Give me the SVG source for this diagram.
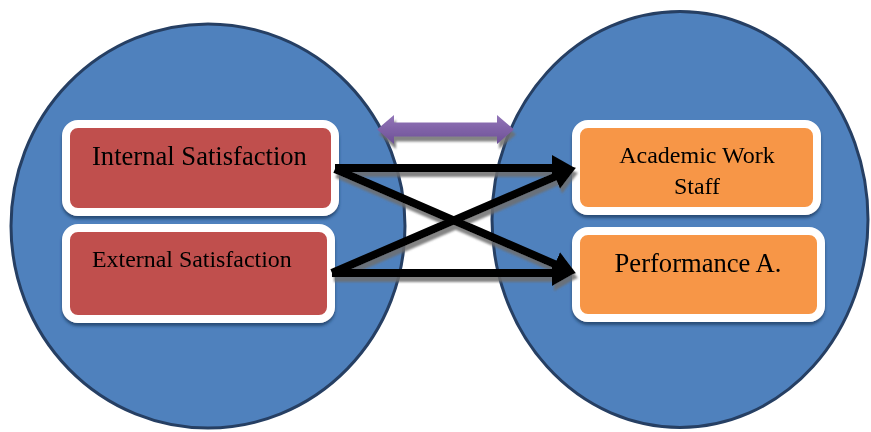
<svg xmlns="http://www.w3.org/2000/svg" width="871" height="432" viewBox="0 0 871 432">
  <defs>
    <style>
      .circle { fill: #4F81BD; stroke: #263F63; stroke-width: 3; }
      .box-red { fill: #C0504D; stroke: #FFFFFF; stroke-width: 8; }
      .box-orange { fill: #F79646; stroke: #FFFFFF; stroke-width: 8; }
      .label { font-family: "Liberation Serif", "Times New Roman", serif; fill: #000000; }
      .center { text-anchor: middle; }
      .conn { stroke: #000000; stroke-width: 8; fill: none; marker-end: url(#head); }
    </style>
    <marker id="head" markerUnits="userSpaceOnUse" markerWidth="24" markerHeight="28" refX="8" refY="13" orient="auto">
      <path d="M0,0 L23,13 L0,26 Z" fill="#000000"/>
    </marker>
    <linearGradient id="purple" x1="0" y1="0" x2="0" y2="1">
      <stop offset="0" stop-color="#9275B8"/>
      <stop offset="1" stop-color="#6D4F96"/>
    </linearGradient>
    <filter id="boxShadow" x="-10%" y="-10%" width="120%" height="130%">
      <feDropShadow dx="0" dy="3" stdDeviation="1.5" flood-color="#1F3A5F" flood-opacity="0.75"/>
    </filter>
    <filter id="lineShadow" x="-10%" y="-20%" width="120%" height="150%">
      <feDropShadow dx="2" dy="5" stdDeviation="1.2" flood-color="#6E6E6E" flood-opacity="0.85"/>
    </filter>
  </defs>

  <rect width="871" height="432" fill="#FFFFFF"/>

  <g id="left-circle">
    <ellipse class="circle" cx="208" cy="226" rx="197" ry="202"/>
  </g>
  <g id="right-circle">
    <ellipse class="circle" cx="680" cy="219.5" rx="188" ry="208"/>
  </g>

  <g id="internal-satisfaction" filter="url(#boxShadow)">
    <rect class="box-red" x="66" y="124" width="269" height="88" rx="12"/>
    <text class="label" x="92" y="165" font-size="26.6">Internal Satisfaction</text>
  </g>
  <g id="external-satisfaction" filter="url(#boxShadow)">
    <rect class="box-red" x="66" y="228" width="265" height="91" rx="12"/>
    <text class="label" x="92" y="267" font-size="23.9">External Satisfaction</text>
  </g>
  <g id="academic-work-staff" filter="url(#boxShadow)">
    <rect class="box-orange" x="576" y="124" width="241" height="87" rx="12"/>
    <text class="label center" x="697" y="163" font-size="24">Academic Work</text>
    <text class="label center" x="697" y="194" font-size="24">Staff</text>
  </g>
  <g id="performance" filter="url(#boxShadow)">
    <rect class="box-orange" x="576" y="231" width="245" height="87" rx="12"/>
    <text class="label center" x="698" y="272" font-size="26.6">Performance A.</text>
  </g>

  <g id="connectors" filter="url(#lineShadow)">
    <path d="M377,129.5 L394,115 L394,122.5 L497,122.5 L497,115 L514,129.5 L497,144 L497,136.5 L394,136.5 L394,144 Z" fill="url(#purple)"/>
    <line class="conn" x1="335" y1="168" x2="560" y2="168"/>
    <line class="conn" x1="335" y1="169" x2="562.2" y2="267.4"/>
    <line class="conn" x1="332" y1="273" x2="562.2" y2="173.6"/>
    <line class="conn" x1="332" y1="273" x2="560" y2="273"/>
  </g>
</svg>
